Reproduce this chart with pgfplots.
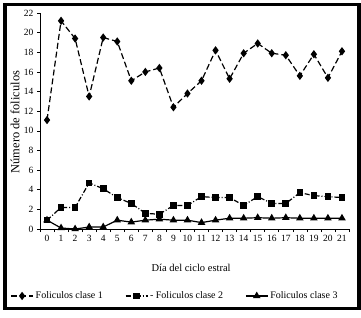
\documentclass[border=0pt]{standalone}
\usepackage{pgfplots}
\pgfplotsset{compat=1.18}
\usepackage{fontspec}
\setmainfont{Liberation Serif}
\begin{document}
\begin{tikzpicture}
\path (-40pt,-88pt) rectangle (321pt,229pt);
\draw[line width=3.5pt] (-35pt,-79.5pt) rectangle (319pt,224.5pt);
\begin{axis}[
  at={(0pt,0pt)}, anchor=south west,
  scale only axis, width=309pt, height=216pt,
  xmin=-0.5, xmax=21.5, ymin=0, ymax=22,
  axis x line=bottom, axis y line=left,
  axis line style={-, line width=0.6pt},
  xtick={0,...,21}, major x tick style={draw=none},
  minor xtick={-0.5,0.5,...,21.5},
  ytick={0,2,...,22},
  tick align=outside, tick style={black, line width=0.6pt},
  major tick length=3pt, minor tick length=3pt,
  tick label style={font=\fontsize{9.5}{10}\selectfont},
  /pgf/number format/assume math mode=true,
  xlabel={Día del ciclo estral},
  ylabel={Número de foliculos},
  xlabel style={font=\fontsize{10.5}{11}\selectfont, at={(axis description cs:0.489,-0.18)}, anchor=center},
  ylabel style={font=\fontsize{12.5}{13}\selectfont, at={(axis description cs:-0.081,0.495)}, anchor=center},
  legend columns=3,
  legend style={draw=none, at={(axis description cs:0.437,-0.31)}, anchor=center,
    font=\fontsize{10}{11}\selectfont, /tikz/every even column/.append style={column sep=20pt}},
  legend image code/.code={\draw[#1] (0pt,0pt) -- (22pt,0pt); \draw[#1,solid] plot coordinates {(11pt,0pt)};},
]
\addplot[black, line width=1.2pt, dash pattern=on 6pt off 3pt, mark=diamond*, mark size=3.2pt, mark options={solid}]
coordinates {(0,11.1)(1,21.2)(2,19.4)(3,13.5)(4,19.5)(5,19.1)(6,15.1)(7,16.0)(8,16.4)(9,12.4)(10,13.8)(11,15.1)(12,18.2)(13,15.3)(14,17.9)(15,18.9)(16,17.9)(17,17.7)(18,15.6)(19,17.8)(20,15.4)(21,18.1)};
\addlegendentry{Foliculos clase 1}
\addplot[black, line width=1.2pt, dash pattern=on 5pt off 2pt on 1pt off 2pt, mark=square*, mark size=2.7pt, mark options={solid}]
coordinates {(0,0.9)(1,2.2)(2,2.2)(3,4.7)(4,4.1)(5,3.2)(6,2.6)(7,1.6)(8,1.5)(9,2.4)(10,2.4)(11,3.3)(12,3.2)(13,3.2)(14,2.4)(15,3.3)(16,2.6)(17,2.6)(18,3.7)(19,3.4)(20,3.3)(21,3.2)};
\addlegendentry{- Foliculos clase 2}
\addplot[black, line width=1.2pt, solid, mark=triangle*, mark size=3.2pt]
coordinates {(0,0.9)(1,0.1)(2,0.0)(3,0.2)(4,0.2)(5,0.9)(6,0.7)(7,0.9)(8,1.0)(9,0.9)(10,0.9)(11,0.65)(12,0.9)(13,1.1)(14,1.1)(15,1.15)(16,1.1)(17,1.15)(18,1.1)(19,1.1)(20,1.1)(21,1.1)};
\addlegendentry{Foliculos clase 3}
\end{axis}
\end{tikzpicture}
\end{document}
